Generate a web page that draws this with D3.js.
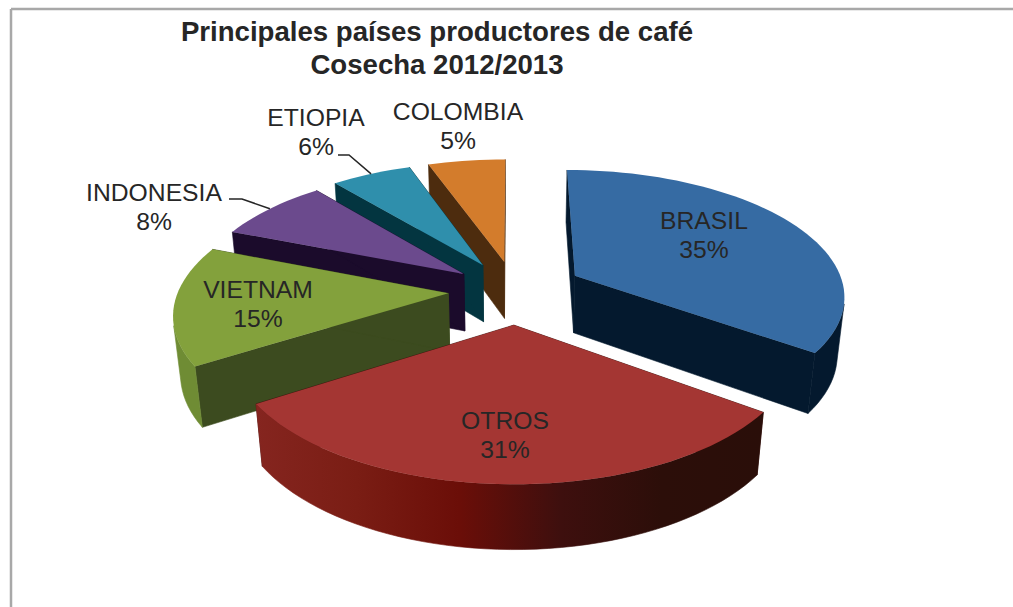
<!DOCTYPE html>
<meta charset="utf-8">
<head>
<style>
    body {margin: 0; background: #fff; font-family: "Liberation Sans", Arial, sans-serif;}
    text {fill: #262626;}
</style>
<script src="https://d3js.org/d3.v7.min.js"></script>
</head>

<body>
    <div id="cafe-chart"></div>
</body>

<script>
// data read off the picture, the last two are estimated from the slice widths
var paises = ["BRASIL", "OTROS", "VIETNAM", "INDONESIA", "ETIOPIA", "COLOMBIA"];
var valores = [35, 31, 15, 8, 5.6, 5.4];
var titulo = ["Principales países productores de café", "Cosecha 2012/2013"];

// colours, same order as paises
var topColors = ["#366ba3", "#a43633", "#83a13c", "#6b4a8d", "#2f8fac", "#d37c2c"];
var wallColors = ["#04192e", "#3a0f0c", "#3c4b1f", "#1b0b2b", "#033540", "#4d2c0e"];
var rimColors = [
    ["#04192e", "#04192e"],
    ["#85251f", "#7a1d14", "#6b0e08", "#3e0f0e", "#2c0e09", "#2a0e09"],
    ["#6f8c34", "#6f8c34"],
    ["#1b0b2b", "#1b0b2b"],
    ["#033540", "#033540"],
    ["#4d2c0e", "#4d2c0e"]
];

// how far each slice is pulled out, and a small sideways correction
var explodeBy = [0.266, 0.266, 0.236, 0.229, 0.24, 0.24];
var nudgeBy = [0, 4, 0, 1, 2, 3];

// label centres, x and first baseline
var labelPos = {
    BRASIL: [704, 229], OTROS: [505, 429], VIETNAM: [258, 298],
    INDONESIA: [154, 201], ETIOPIA: [316, 126], COLOMBIA: [458, 120]
};
// where the leader lines leave the label
var leaderStart = {INDONESIA: [229, 199, 242], ETIOPIA: [338, 155, 349]};

var width = 1013;
var height = 607;

// 3d look: tilted ellipse with a bit of perspective, front is bigger
var cx = 512, cy = 290.5;
var a = 270, b = 125;
var persp = 0.145, shrink = 0.022, depth = 59;

function project(X, Y, z) {
    var d = 1 - persp * Y + shrink * z;
    return [cx + a * X / d, cy + (b * Y + depth * z) / d];
}

var svg = d3.select("#cafe-chart").append("svg")
    .attr("width", width)
    .attr("height", height);
var defs = svg.append("defs");

// frame, only top and left are in the picture
svg.append("line").attr("x1", 11).attr("y1", 9).attr("x2", width).attr("y2", 9)
    .style("stroke", "#a8a8a8").style("stroke-width", 2.5);
svg.append("line").attr("x1", 11).attr("y1", 9).attr("x2", 11).attr("y2", height)
    .style("stroke", "#a8a8a8").style("stroke-width", 2.5);

var pie = d3.pie().sort(null).value(function(d) { return d; });
var arcs = pie(valores).map(function(d, i) {
    d.name = paises[i];
    d.i = i;
    d.mid = (d.startAngle + d.endAngle) / 2;
    d.ox = explodeBy[i] * Math.sin(d.mid) + nudgeBy[i] / a;
    d.oy = -explodeBy[i] * Math.cos(d.mid);
    return d;
});

function apex(d, z) { return project(d.ox, d.oy, z); }
function rim(d, t, z) { return project(d.ox + Math.sin(t), d.oy - Math.cos(t), z); }
function rimPoints(d, z) {
    var n = Math.ceil((d.endAngle - d.startAngle) / 0.04);
    return d3.range(n + 1).map(function(k) {
        return rim(d, d.startAngle + (d.endAngle - d.startAngle) * k / n, z);
    });
}

var line = d3.line();
var drawOrder = arcs.slice().sort(function(p, q) { return d3.descending(Math.cos(p.mid), Math.cos(q.mid)); });

var slices = svg.append("g").selectAll("g")
    .data(drawOrder)
    .enter().append("g");

slices.each(function(d) {
    var g = d3.select(this);
    var top = rimPoints(d, 0);
    var bottom = rimPoints(d, 1);

    // the two cut faces
    [d.startAngle, d.endAngle].forEach(function(t) {
        g.append("path")
            .attr("d", line([apex(d, 0), rim(d, t, 0), rim(d, t, 1), apex(d, 1)]) + "Z")
            .style("fill", wallColors[d.i])
            .style("stroke", wallColors[d.i])
            .style("stroke-width", 0.6);
    });

    // outer skin, shaded left to right
    var xs = d3.extent(top, function(p) { return p[0]; });
    var stops = rimColors[d.i];
    var grad = defs.append("linearGradient")
        .attr("id", "rim" + d.i)
        .attr("gradientUnits", "userSpaceOnUse")
        .attr("x1", xs[0]).attr("x2", xs[1]).attr("y1", 0).attr("y2", 0);
    stops.forEach(function(c, k) {
        grad.append("stop").attr("offset", k / (stops.length - 1)).attr("stop-color", c);
    });
    // only the part of the skin facing us, otherwise the outline folds and cancels itself
    var facing = d3.range(top.length - 1).filter(function(k) {
        return d3.polygonArea([top[k], top[k + 1], bottom[k + 1], bottom[k]]) > 0;
    });
    if (facing.length) {
        var first = facing[0], last = facing[facing.length - 1] + 1;
        g.append("path")
            .attr("d", line(top.slice(first, last + 1).concat(bottom.slice(first, last + 1).reverse())) + "Z")
            .style("fill", "url(#rim" + d.i + ")")
            .style("stroke", "url(#rim" + d.i + ")")
            .style("stroke-width", 0.6);
    }

    // top face
    g.append("path")
        .attr("d", line([apex(d, 0)].concat(top)) + "Z")
        .style("fill", topColors[d.i]);
});

// leader lines go to the middle of the outer edge
arcs.filter(function(d) { return leaderStart[d.name]; }).forEach(function(d) {
    var s = leaderStart[d.name];
    var end = rim(d, d.mid, 0);
    svg.append("path")
        .attr("d", line([[s[0], s[1]], [s[2], s[1]], end]))
        .style("fill", "none")
        .style("stroke", "#262626")
        .style("stroke-width", 1.5);
});

// labels
var total = d3.sum(valores);
svg.append("g").selectAll("text")
    .data(arcs)
    .enter().append("text")
    .attr("text-anchor", "middle")
    .style("font-size", "24.7px")
    .each(function(d) {
        var p = labelPos[d.name];
        var t = d3.select(this);
        t.append("tspan").attr("x", p[0]).attr("y", p[1]).text(d.name);
        t.append("tspan").attr("x", p[0]).attr("y", p[1] + 29)
            .text(d3.format(".0%")(d.value / total));
    });

// title
svg.append("g").selectAll("text")
    .data(titulo)
    .enter().append("text")
    .attr("x", 437)
    .attr("y", function(d, i) { return 41 + i * 33; })
    .attr("text-anchor", "middle")
    .style("font-size", "27.6px")
    .style("font-weight", "bold")
    .text(function(d) { return d; });
</script>
